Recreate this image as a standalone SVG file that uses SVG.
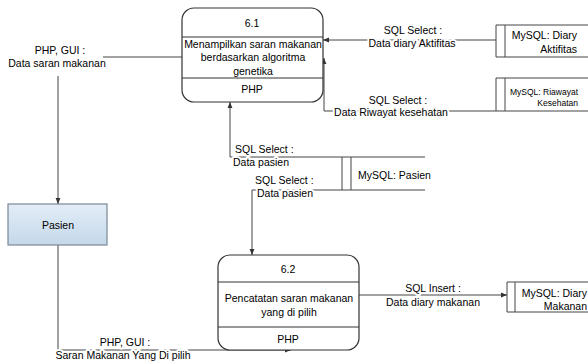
<svg xmlns="http://www.w3.org/2000/svg" width="588" height="363" viewBox="0 0 588 363">
  <defs>
    <linearGradient id="entityFill" x1="0" y1="0" x2="0" y2="1">
      <stop offset="0" stop-color="#e3edf7"/>
      <stop offset="1" stop-color="#c4d8ea"/>
    </linearGradient>
    <marker id="arrow" viewBox="0 0 10 10" refX="10" refY="5" markerWidth="6" markerHeight="6" orient="auto" markerUnits="userSpaceOnUse">
      <path d="M0,1 L10,5 L0,9 Z" fill="#333"/>
    </marker>
  </defs>
  <style>
    text { font-family: "Liberation Sans", Arial, sans-serif; font-size: 10.5px; fill: #000; }
    .c { text-anchor: middle; }
    .r { text-anchor: end; }
    .lbl { paint-order: stroke; stroke: #fff; stroke-width: 4px; stroke-linejoin: round; }
    .small { font-size: 8.5px; }
    .proc { fill: #fff; stroke: #333; stroke-width: 1.2; }
    .div { stroke: #333; stroke-width: 1; }
    .store { fill: none; stroke: #444; stroke-width: 1; }
    .flow { fill: none; stroke: #444; stroke-width: 1; }
  </style>
  <rect width="588" height="363" fill="#fff"/>

  <!-- data flows -->
  <g id="connectors">
    <!-- 6.1 to Pasien (broken by its label) -->
    <line class="flow" x1="182" y1="57" x2="103" y2="57"/>
    <line class="flow" x1="58" y1="76" x2="58" y2="204" marker-end="url(#arrow)"/>
    <!-- Diary Aktifitas to 6.1 -->
    <line class="flow" x1="496" y1="40" x2="323" y2="40" marker-end="url(#arrow)"/>
    <!-- Riwayat Kesehatan to 6.1 -->
    <polyline class="flow" points="496,111 324,111 324,58" marker-end="url(#arrow)"/>
    <!-- Pasien store to 6.1 -->
    <polyline class="flow" points="342,157 230,157 230,102" marker-end="url(#arrow)"/>
    <!-- Pasien store to 6.2 -->
    <polyline class="flow" points="342,190 252,190 252,255" marker-end="url(#arrow)"/>
    <!-- Pasien to 6.2 -->
    <polyline class="flow" points="58,245 58,350 291,350" marker-end="url(#arrow)"/>
    <!-- 6.2 to Diary Makanan -->
    <line class="flow" x1="359" y1="295" x2="507" y2="295" marker-end="url(#arrow)"/>

    <!-- flow labels -->
    <text class="c lbl" x="60" y="54">PHP, GUI :</text>
    <text class="c lbl" x="57" y="67">Data saran makanan</text>
    <text class="c lbl" x="413" y="34">SQL Select :</text>
    <text class="c lbl" x="412" y="47">Data diary Aktifitas</text>
    <text class="c lbl" x="398" y="104">SQL Select :</text>
    <text class="c lbl" x="391" y="116">Data Riwayat kesehatan</text>
    <text class="lbl" x="235" y="153">SQL Select :</text>
    <text class="lbl" x="233" y="166">Data pasien</text>
    <text class="lbl" x="255" y="184">SQL Select :</text>
    <text class="lbl" x="257" y="197">Data pasien</text>
    <text class="c lbl" x="125" y="346">PHP, GUI :</text>
    <text class="c lbl" x="123" y="359">Saran Makanan Yang Di pilih</text>
    <text class="c lbl" x="433" y="292">SQL Insert :</text>
    <text class="c lbl" x="433" y="306">Data diary makanan</text>
  </g>

  <!-- process 6.1 -->
  <g id="process-6-1">
    <rect class="proc" x="182" y="8" width="141" height="94" rx="12"/>
    <line class="div" x1="182" y1="37" x2="323" y2="37"/>
    <line class="div" x1="182" y1="78" x2="323" y2="78"/>
    <text class="c" x="252" y="27">6.1</text>
    <text class="c" x="253" y="48">Menampilkan saran makanan</text>
    <text class="c" x="253" y="61">berdasarkan algoritma</text>
    <text class="c" x="253" y="75">genetika</text>
    <text class="c" x="252" y="93">PHP</text>
  </g>

  <!-- process 6.2 -->
  <g id="process-6-2">
    <rect class="proc" x="218" y="255" width="141" height="95" rx="12"/>
    <line class="div" x1="218" y1="282" x2="359" y2="282"/>
    <line class="div" x1="218" y1="327" x2="359" y2="327"/>
    <text class="c" x="288" y="273">6.2</text>
    <text class="c" x="289" y="302">Pencatatan saran makanan</text>
    <text class="c" x="289" y="316">yang di pilih</text>
    <text class="c" x="288" y="343">PHP</text>
  </g>

  <!-- external entity -->
  <g id="entity-pasien">
    <rect x="8" y="204" width="99" height="41" fill="url(#entityFill)" stroke="#7a8796" stroke-width="1.2"/>
    <text class="c" x="58" y="229">Pasien</text>
  </g>

  <!-- data stores -->
  <g id="store-diary-aktifitas">
    <path class="store" d="M588,25 H496 V57 H588 M505,25 V57"/>
    <text class="r" x="577" y="39">MySQL: Diary</text>
    <text class="r" x="577" y="53">Aktifitas</text>
  </g>
  <g id="store-riwayat-kesehatan">
    <path class="store" d="M588,78 H496 V111 H588 M505,78 V111"/>
    <text class="r small" x="578" y="95">MySQL: Riawayat</text>
    <text class="r small" x="578" y="106">Kesehatan</text>
  </g>
  <g id="store-pasien">
    <path class="store" d="M425,157 H342 V190 H425 M351,157 V190"/>
    <text x="358" y="179">MySQL: Pasien</text>
  </g>
  <g id="store-diary-makanan">
    <path class="store" d="M588,282 H507 V312 H588 M515,282 V312"/>
    <text class="r" x="587" y="297">MySQL: Diary</text>
    <text class="r" x="587" y="310">Makanan</text>
  </g>
</svg>
